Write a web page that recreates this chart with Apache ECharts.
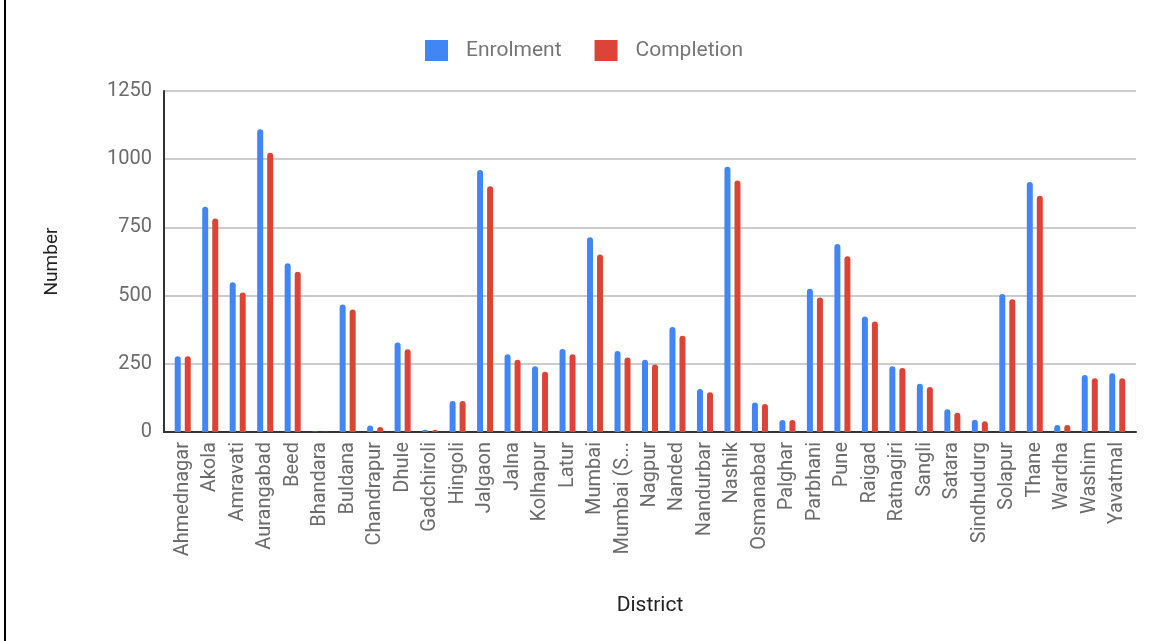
<!DOCTYPE html>
<html>
<head>
<meta charset="utf-8">
<script src="https://cdn.jsdelivr.net/npm/echarts@6/dist/echarts.min.js"></script>
<style>
    html, body { margin: 0; padding: 0; background: #fff; }
    #chart { width: 1167px; height: 641px; }
</style>
</head>
<body>
<div id="chart"></div>
<script>
const districts = ["Ahmednagar", "Akola", "Amravati", "Aurangabad", "Beed", "Bhandara", "Buldana", "Chandrapur", "Dhule",
    "Gadchiroli", "Hingoli", "Jalgaon", "Jalna", "Kolhapur", "Latur", "Mumbai", "Mumbai (S...", "Nagpur", "Nanded",
    "Nandurbar", "Nashik", "Osmanabad", "Palghar", "Parbhani", "Pune", "Raigad", "Ratnagiri", "Sangli", "Satara",
    "Sindhudurg", "Solapur", "Thane", "Wardha", "Washim", "Yavatmal"];
const enrolment = [278, 826, 549, 1110, 619, 2, 467, 24, 328,
    8, 114, 960, 285, 241, 304, 714, 297, 265, 385,
    158, 972, 108, 44, 525, 689, 423, 241, 177, 83,
    45, 506, 916, 26, 209, 215];
const completion = [278, 783, 511, 1024, 587, 1, 449, 18, 303,
    7, 114, 901, 265, 221, 285, 651, 273, 247, 353,
    146, 922, 103, 44, 493, 644, 405, 235, 165, 71,
    39, 487, 866, 26, 197, 197];
const yTicks = [0, 250, 500, 750, 1000, 1250];

const colors = ["#4285f4", "#db4437"];
const font = "Roboto";

let chart = echarts.init(document.getElementById("chart"));
let option = {
    color: colors,
    textStyle: { fontFamily: font },
    legend: {
        top: 35,
        left: 420,
        itemWidth: 23,
        itemHeight: 21,
        itemGap: 33,
        icon: "rect",
        textStyle: { color: "#757575", fontSize: 21, fontFamily: font, padding: [0, 0, 0, 13] },
        data: ["Enrolment", "Completion"],
    },
    graphic: [
        // black edge line on the left side of the picture
        { type: "rect", left: 4, top: 0, shape: { width: 2, height: 641 }, style: { fill: "#000" } },
    ],
    grid: [
        // outer grid: gridlines and axis lines
        { left: 164, right: 31, top: 91, bottom: 209 },
        // inner grid: bars and labels
        { left: 169, right: 36, top: 91, bottom: 209 },
    ],
    xAxis: [
        {
            gridIndex: 0,
            type: "value",
            min: 0,
            max: 1,
            axisLine: { show: true, onZero: false, lineStyle: { color: "#333", width: 2 } },
            axisTick: { show: false },
            axisLabel: { show: false },
            splitLine: { show: false },
        },
        {
            gridIndex: 1,
            type: "category",
            data: districts,
            axisLine: { show: false },
            axisTick: { show: false },
            axisLabel: {
                rotate: 90,
                interval: 0,
                margin: 10,
                color: "#6b6b6b",
                fontSize: 20,
                fontFamily: font,
            },
            name: "District",
            nameLocation: "middle",
            nameGap: 163,
            nameTextStyle: { color: "#222", fontSize: 21, fontFamily: font },
        },
    ],
    yAxis: [
        {
            gridIndex: 0,
            type: "value",
            min: 0,
            max: yTicks[yTicks.length - 1],
            interval: yTicks[1] - yTicks[0],
            axisLine: { show: true, lineStyle: { color: "#333", width: 2 } },
            axisTick: { show: false },
            axisLabel: { color: "#6b6b6b", fontSize: 20, margin: 12, fontFamily: font, formatter: (v) => String(v) },
            splitLine: { show: true, lineStyle: { color: "#cccccc", width: 2 } },
            name: "Number",
            nameLocation: "middle",
            nameGap: 102,
            nameTextStyle: { color: "#222", fontSize: 19, fontFamily: font },
        },
        {
            gridIndex: 1,
            type: "value",
            min: 0,
            max: yTicks[yTicks.length - 1],
            interval: yTicks[1] - yTicks[0],
            show: false,
        },
    ],
    series: [
        {
            name: "Enrolment",
            type: "bar",
            xAxisIndex: 1,
            yAxisIndex: 1,
            barWidth: 6,
            barGap: "67%",
            itemStyle: { borderRadius: [3, 3, 0, 0] },
            data: enrolment,
        },
        {
            name: "Completion",
            type: "bar",
            xAxisIndex: 1,
            yAxisIndex: 1,
            barWidth: 6,
            barGap: "67%",
            itemStyle: { borderRadius: [3, 3, 0, 0] },
            data: completion,
        },
    ],
};
chart.setOption(option);
</script>
</body>
</html>
